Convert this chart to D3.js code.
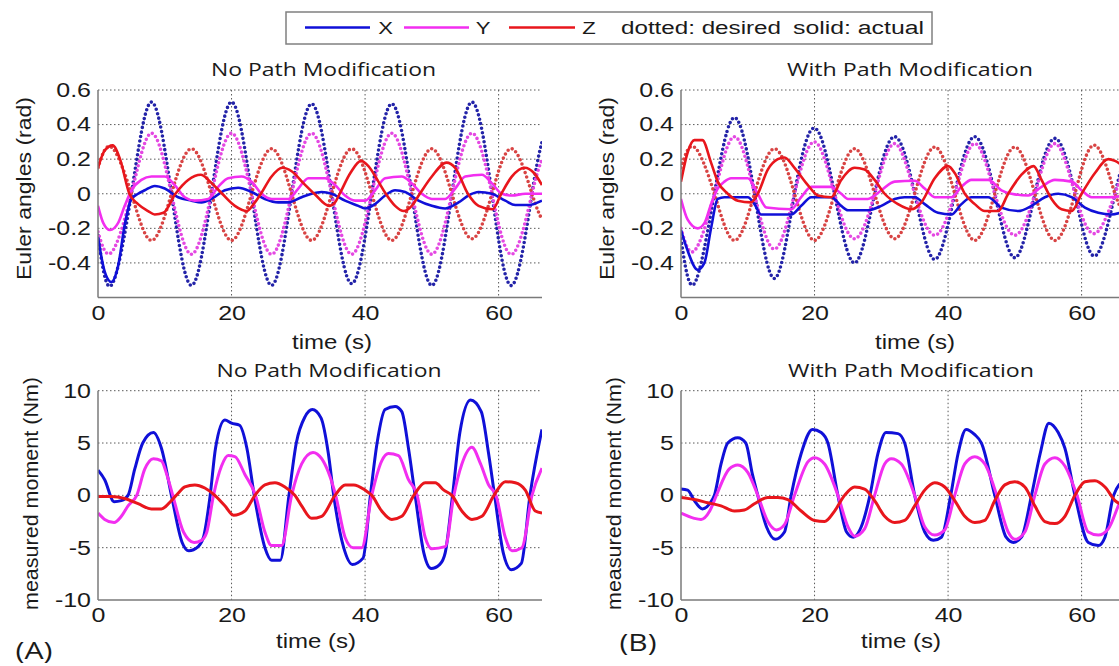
<!DOCTYPE html>
<html><head><meta charset="utf-8">
<script src="https://cdn.jsdelivr.net/npm/d3@7"></script>
<style>body{margin:0;background:#fff}svg{display:block}</style>
</head><body><script>
// ---------------- DATA ----------------
const xDomain = [0, 66.5];
const xTicks = [0, 20, 40, 60];
const angleDomain = [-0.6, 0.6];
const angleTicks = [0.6, 0.4, 0.2, 0, -0.2, -0.4];
const momentDomain = [-10, 10];
const momentTicks = [10, 5, 0, -5, -10];

const panelTitles = ["No Path Modification", "With Path Modification", "No Path Modification", "With Path Modification"];
const legendLabels = ["X", "Y", "Z"];

// desired (dotted) trajectories, sampled times
const tDesired = [0, 2, 5, 8, 11, 14, 17, 20, 23, 26, 29, 32, 35, 38, 41, 44, 47, 50, 53, 56, 59, 62, 65, 66.5];
const desX_A = [-0.24, -0.53, 0, 0.53, 0, -0.53, 0, 0.53, 0, -0.53, 0, 0.52, 0, -0.52, 0, 0.52, 0, -0.53, 0, 0.53, 0, -0.53, 0, 0.30];
const desY_A = [-0.22, -0.34, 0, 0.35, 0, -0.35, 0, 0.35, 0, -0.35, 0, 0.35, 0, -0.35, 0, 0.35, 0, -0.35, 0, 0.35, 0, -0.35, 0, 0.20];
const desZ_A = [0.15, 0.27, 0, -0.27, 0, 0.26, 0, -0.27, 0, 0.26, 0, -0.27, 0, 0.26, 0, -0.27, 0, 0.26, 0, -0.26, 0, 0.26, 0, -0.15];
const desX_B = [-0.26, -0.52, 0, 0.44, 0, -0.49, 0, 0.38, 0, -0.40, 0, 0.33, 0, -0.38, 0, 0.33, 0, -0.37, 0, 0.32, 0, -0.36, 0, 0.20];
const desY_B = [-0.20, -0.33, 0, 0.33, 0, -0.32, 0, 0.30, 0, -0.26, 0, 0.29, 0, -0.24, 0, 0.29, 0, -0.24, 0, 0.29, 0, -0.23, 0, 0.15];
const desZ_B = [0.15, 0.27, 0, -0.27, 0, 0.26, 0, -0.27, 0, 0.26, 0, -0.26, 0, 0.27, 0, -0.27, 0, 0.27, 0, -0.27, 0, 0.28, 0, -0.10];

// actual Euler angles [t, rad]
const angX_A = [[0,-0.25],[1,-0.45],[2,-0.51],[3,-0.42],[4,-0.18],[5,-0.03],[6,0.0],[7,0.02],[8.5,0.045],[10,0.03],[12,-0.02],[14,-0.04],[15.5,-0.05],[17,-0.03],[19,0.02],[21,0.035],[23,0.01],[25,-0.03],[27,-0.05],[28.5,-0.05],[30.5,-0.02],[32,0.0],[33.5,0.01],[35,0.0],[37,-0.04],[39,-0.07],[40,-0.085],[41.5,-0.06],[43,-0.01],[44.5,0.02],[46,0.01],[48,-0.04],[50,-0.07],[52,-0.085],[54,-0.05],[55.5,-0.01],[57,0.01],[59,0.0],[61,-0.04],[62.5,-0.065],[64.5,-0.065],[66.5,-0.04]];
const angY_A = [[0,-0.07],[0.8,-0.17],[1.8,-0.21],[3,-0.17],[4,-0.07],[5,0.02],[6.5,0.08],[8,0.1],[10,0.1],[11.5,0.05],[13,-0.02],[14.5,-0.04],[16.5,-0.03],[18,0.04],[19.5,0.09],[21.5,0.1],[23,0.07],[24.5,0.0],[26,-0.03],[28.5,-0.03],[30,0.03],[31.5,0.09],[34,0.09],[35.5,0.05],[37,-0.01],[38.5,-0.04],[40,-0.04],[41.5,0.02],[43,0.09],[45.5,0.1],[47,0.06],[48.5,0.0],[50,-0.03],[52,-0.03],[53.5,0.03],[55,0.1],[57.5,0.11],[59,0.06],[60.5,0.0],[62,-0.01],[64,0.0],[66.5,0.0]];
const angZ_A = [[0,0.15],[1,0.25],[2.2,0.28],[3.3,0.2],[4.7,0.0],[6,-0.06],[7.5,-0.1],[8.5,-0.12],[9.8,-0.11],[11.6,0.0],[13.5,0.08],[15.4,0.11],[16.8,0.07],[18.6,0.0],[20.5,-0.07],[22.3,-0.1],[23.3,-0.06],[24.4,0.0],[26,0.1],[27.6,0.15],[29,0.13],[30.8,0.06],[32.4,0.0],[34.6,-0.07],[35.5,-0.05],[36.2,0.0],[37.8,0.12],[39.4,0.19],[40.5,0.16],[42,0.07],[43.1,0.0],[44.5,-0.07],[45.8,-0.1],[47,-0.07],[48.2,0.0],[50,0.1],[52.2,0.18],[53.5,0.15],[55.4,0.0],[57,-0.07],[59.1,-0.09],[60.4,0.0],[62,0.1],[63.9,0.15],[65.3,0.12],[66.5,0.05]];
const angX_B = [[0,-0.21],[1,-0.33],[2.5,-0.44],[3.5,-0.4],[4.5,-0.2],[5.5,-0.03],[6.5,-0.02],[10,-0.02],[11,-0.06],[12,-0.12],[16.5,-0.12],[18,-0.07],[19.5,-0.02],[22.5,-0.02],[24,-0.07],[25,-0.095],[28,-0.095],[30,-0.07],[32,-0.03],[33.5,-0.02],[35,-0.02],[36.5,-0.06],[38.5,-0.11],[40.5,-0.12],[42,-0.06],[43.5,-0.02],[46,-0.02],[48,-0.08],[50.5,-0.1],[52.5,-0.07],[54.5,-0.02],[56.5,0.0],[58.5,-0.02],[60.5,-0.08],[62.5,-0.11],[64.5,-0.12],[66.5,-0.1]];
const angY_B = [[0,-0.03],[1,-0.15],[2.5,-0.2],[3.5,-0.17],[4.5,-0.06],[5.5,0.03],[6.5,0.07],[7.5,0.09],[10,0.09],[11.5,0.0],[12.8,-0.08],[16.5,-0.09],[18,-0.02],[19.5,0.04],[22.5,0.04],[24,0.0],[25,-0.03],[28,-0.03],[30,0.02],[32,0.07],[35,0.075],[36.5,0.03],[38,-0.02],[40.5,-0.02],[42,0.04],[43.5,0.08],[46,0.08],[48,0.02],[49.5,0.0],[52,-0.01],[54,0.04],[56,0.08],[58.5,0.07],[60,0.02],[61.5,-0.02],[64,-0.02],[66.5,-0.01]];
const angZ_B = [[0,0.07],[1,0.24],[2,0.31],[3.2,0.31],[4.5,0.18],[5.5,0.07],[7,0.0],[8.5,-0.04],[10.5,-0.05],[11.5,0.0],[13,0.14],[14.5,0.2],[15.5,0.21],[17,0.15],[19,0.05],[20.5,-0.01],[22.5,-0.02],[24,0.08],[26,0.15],[27.5,0.14],[29,0.08],[30.5,0.0],[32.5,-0.06],[34.5,-0.09],[36,-0.05],[38,0.09],[40,0.16],[41,0.12],[42.5,0.0],[44,-0.06],[45.5,-0.1],[47.5,-0.1],[49,0.0],[51,0.11],[52.8,0.16],[54,0.08],[55.5,-0.03],[57,-0.09],[58.5,-0.1],[60,0.0],[62,0.12],[64,0.2],[65,0.19],[66.5,0.15]];

// measured moments [t, Nm]
const momX_A = [[0,2.4],[1,1.5],[2.4,-0.6],[3.5,-0.5],[4.5,0.0],[5.5,2.5],[6.7,5.0],[8.3,6.0],[9.5,4.5],[11,0.0],[12.6,-4.5],[13.6,-5.3],[15,-4.9],[15.8,-4.0],[16.8,0.0],[17.6,4.5],[19,7.2],[20,6.9],[21.2,6.7],[22.3,4.5],[23.4,0.0],[25,-5.0],[26,-6.2],[27.3,-6.2],[28.6,0.0],[29.7,5.0],[31,7.5],[32.1,8.2],[33.4,7.4],[34.5,4],[35.3,0.0],[36.8,-5.0],[38.1,-6.6],[39.7,-6.0],[40.8,0.0],[41.8,5.0],[43,8.2],[44.5,8.5],[45.5,8.0],[46.5,4.5],[47.5,0.0],[48.8,-5.5],[49.9,-7.0],[51.2,-6.6],[52,-5.5],[53.1,0.0],[54.2,6.0],[55.8,9.1],[57.4,8.0],[58.5,4],[59.4,0.0],[60.7,-5.5],[61.9,-7.1],[63.4,-6.5],[64.7,0.0],[66.5,6.3]];
const momY_A = [[0,-1.7],[1,-2.3],[2.4,-2.6],[3.5,-2.0],[4.5,-1.0],[5.8,0.0],[7,2.5],[8.3,3.5],[9.5,3.3],[10.3,2.0],[11.2,0.0],[12.8,-3.5],[14.4,-4.5],[15.5,-4.3],[16.3,-3.5],[17.3,0.0],[18.5,2.8],[19.5,3.8],[20.5,3.7],[22,2.0],[23.6,0.0],[25,-3.5],[26,-4.8],[27.5,-4.8],[29,0.0],[30.5,3.0],[32.2,4.1],[33.5,3.5],[35.6,0.0],[37,-4.0],[38.2,-5.0],[39.5,-5.0],[41,0.0],[42.5,3.3],[43.5,4.0],[45,3.8],[46.5,1.5],[47.8,0.0],[49,-4.0],[50,-5.1],[52,-4.9],[53.3,0.0],[54.5,3.0],[56,4.6],[57.3,3.0],[58.5,1.0],[59.6,0.0],[61,-4.0],[62,-5.3],[63.5,-5.0],[65,0.0],[66.5,2.6]];
const momZ_A = [[0,-0.1],[2,-0.1],[4,-0.3],[6,-0.8],[8,-1.3],[9.5,-1.3],[11,-0.5],[12,0.2],[13,0.8],[14.5,1.0],[16,0.7],[17.5,0.0],[19,-1.0],[20.3,-1.9],[22,-1.5],[23.5,0.0],[25,1.0],[26.5,1.2],[28,0.8],[29.5,0.0],[30.5,-1.0],[32,-2.2],[33.5,-2.0],[35.5,0.0],[37,1.0],[38.3,1.0],[40,0.5],[41,0.0],[42.5,-1.5],[44,-2.3],[45.5,-2.0],[47.3,0.0],[49,1.2],[50.5,1.2],[51.8,0.5],[53,0.0],[54.5,-1.5],[56,-2.3],[57.5,-2.0],[59.3,0.0],[61,1.3],[62.5,1.2],[64,0.5],[65.5,-1.5],[66.5,-1.7]];
const momX_B = [[0,0.6],[1,0.5],[2,-0.5],[3.2,-1.3],[4.3,-0.8],[5,0.0],[6,3.0],[7,5.0],[8.5,5.5],[9.7,5.0],[10.7,2.0],[11.5,0.0],[12.8,-3.0],[14.1,-4.2],[15.5,-3.5],[16.5,0.0],[18,4.0],[19.7,6.3],[21,6.0],[22,5.0],[23.5,0.0],[24.8,-3.5],[25.8,-4.0],[27,-3.0],[28.3,0.0],[29.5,4.0],[30.7,6.0],[32.5,5.9],[33.5,5.0],[35,0.0],[36.5,-3.5],[37.8,-4.3],[39,-4.0],[40.4,0.0],[41.5,4.0],[42.7,6.3],[44,5.8],[45,5.0],[47,0.0],[48.7,-4.0],[49.8,-4.5],[51,-4.0],[52.5,0.0],[53.8,4.0],[55.1,6.9],[56.5,6.0],[57.5,4.5],[59,0.0],[61,-4.5],[62.5,-4.8],[63.5,-4.0],[64.8,0.0],[66.5,1.5]];
const momY_B = [[0,-1.7],[2,-2.2],[3,-2.3],[4.3,-1.5],[5.3,0.0],[7.2,2.5],[8.5,2.9],[10,2.2],[11.5,0.0],[13,-2.5],[14.3,-3.3],[15.5,-2.8],[17,0.0],[19,3.2],[20,3.6],[21.5,3.0],[23.5,0.0],[25,-3.0],[26,-3.9],[27.5,-3.2],[29,0.0],[30.5,3.0],[31.5,3.5],[33,3.0],[35,0.0],[36.5,-3.0],[38,-3.8],[39.5,-3.3],[41,0.0],[42.5,3.0],[44,3.7],[45.5,3.0],[47.3,0.0],[49,-3.5],[50,-4.2],[51.5,-3.5],[53,0.0],[54.5,3.0],[56,3.6],[57.5,2.8],[59.3,0.0],[61,-3.5],[62.5,-3.8],[64,-3.2],[65.5,-1.0],[66.5,0.5]];
const momZ_B = [[0,-0.2],[2,-0.4],[4,-0.7],[6,-1.0],[8,-1.5],[9.5,-1.4],[11,-0.8],[13,-0.2],[14.5,-0.2],[16,-0.4],[18,-1.5],[20,-2.4],[21.5,-2.5],[23,-1.5],[24.5,0.0],[26,0.8],[27.5,0.6],[29,-0.5],[30.5,-2.0],[32,-2.6],[33.5,-2.4],[35,-1.0],[36.5,0.5],[38,1.2],[39.5,0.8],[41,-0.5],[42.5,-2.0],[44,-2.6],[45.5,-2.4],[47,-0.5],[48.5,1.0],[50,1.3],[51.5,0.8],[53,-1.0],[54.5,-2.5],[56,-2.7],[57.5,-2.0],[59,0.0],[60.5,1.3],[62,1.4],[63.5,0.8],[65,-0.5],[66.5,-1.0]];

// ---------------- STYLE / LAYOUT ----------------
const W = 1119, H = 666;
const colSolid = ["#1010d8", "#f22ef0", "#e8161c"];
const colDot = ["#2323a8", "#e448e2", "#d84444"];
const SANS = "'Liberation Sans', Arial, sans-serif";
const HUM = "'Open Sans', 'Noto Sans', sans-serif";
const SX = 1.25;

const svg = d3.select("body").append("svg").attr("width", W).attr("height", H)
  .style("background", "#fff");

function txt(x, y, s, o) {
  const g = svg.append("g").attr("transform",
    `translate(${x},${y}) scale(${o.sx || 1},1)` + (o.rot ? ` rotate(${o.rot})` : ""));
  const t = g.append("text").text(s)
    .attr("font-family", o.family || SANS)
    .attr("font-size", o.size)
    .attr("fill", o.fill || "#1a1a1a")
    .attr("text-anchor", o.anchor || "middle");
  if (o.dy) t.attr("dy", o.dy);
  if (o.len) t.attr("textLength", o.len).attr("lengthAdjust", "spacingAndGlyphs");
  return t;
}

const zipD = (vals) => tDesired.map((t, i) => [t, vals[i]]);

const panels = [
  { l: 98, t: 90, b: 297.5, yd: angleDomain, yt: angleTicks, title: panelTitles[0], tx: 323.5, ty: 76, tlen: 225,
    ylab: "Euler angles (rad)", ylx: 24, yly: 188.5, ylen: 183, xlx: 332, xly: 349,
    des: [desX_A, desY_A, desZ_A], act: [angX_A, angY_A, angZ_A] },
  { l: 681, t: 90, b: 297.5, yd: angleDomain, yt: angleTicks, title: panelTitles[1], tx: 910, ty: 76, tlen: 246,
    ylab: "Euler angles (rad)", ylx: 607, yly: 188.5, ylen: 183, xlx: 915, xly: 349,
    des: [desX_B, desY_B, desZ_B], act: [angX_B, angY_B, angZ_B] },
  { l: 98, t: 390.7, b: 600, yd: momentDomain, yt: momentTicks, title: panelTitles[2], tx: 329, ty: 377, tlen: 225,
    ylab: "measured moment (Nm)", ylx: 31, yly: 493.5, ylen: 233, xlx: 316, xly: 648,
    des: null, act: [momX_A, momY_A, momZ_A] },
  { l: 681, t: 390.7, b: 600, yd: momentDomain, yt: momentTicks, title: panelTitles[3], tx: 911, ty: 377, tlen: 246,
    ylab: "measured moment (Nm)", ylx: 614, yly: 493.5, ylen: 233, xlx: 901, xly: 648,
    des: null, act: [momX_B, momY_B, momZ_B] }
];
const PW = 444;

panels.forEach((p, pi) => {
  const x = d3.scaleLinear().domain(xDomain).range([p.l, p.l + PW]);
  const y = d3.scaleLinear().domain(p.yd).range([p.b, p.t]);
  const g = svg.append("g");

  // grid
  const gridStyle = s => s.attr("stroke", "#5a5a5a").attr("stroke-width", 1)
    .attr("stroke-dasharray", "1.5,2.5").attr("fill", "none");
  g.selectAll(".hg").data(p.yt.filter(v => v !== p.yd[0])).join("line")
    .attr("x1", p.l).attr("x2", p.l + PW).attr("y1", d => y(d)).attr("y2", d => y(d)).call(gridStyle);
  g.selectAll(".vg").data(xTicks.filter(v => v !== 0)).join("line")
    .attr("x1", d => x(d)).attr("x2", d => x(d)).attr("y1", p.t).attr("y2", p.b).call(gridStyle);

  // clip
  const cid = "clip" + pi;
  svg.append("clipPath").attr("id", cid).append("rect")
    .attr("x", p.l).attr("y", p.t - 20).attr("width", PW).attr("height", p.b - p.t + 40);
  const lines = g.append("g").attr("clip-path", `url(#${cid})`);

  if (p.des) {
    const ld = d3.line().x(d => x(d[0])).y(d => y(d[1])).curve(d3.curveNatural);
    p.des.forEach((vals, k) => {
      lines.append("path").datum(zipD(vals)).attr("d", ld)
        .attr("fill", "none").attr("stroke", colDot[k]).attr("stroke-width", 3.6)
        .attr("stroke-linecap", "round").attr("stroke-dasharray", "0,4.6");
    });
  }
  const la = d3.line().x(d => x(d[0])).y(d => y(d[1])).curve(d3.curveMonotoneX);
  p.act.forEach((pts, k) => {
    lines.append("path").datum(pts).attr("d", la)
      .attr("fill", "none").attr("stroke", colSolid[k]).attr("stroke-width", pi < 2 ? 2.6 : 3)
      .attr("stroke-linejoin", "round");
  });

  // axes
  const ax = g.append("g").attr("transform", `translate(0,${p.b})`)
    .call(d3.axisBottom(x).tickValues(xTicks).tickSize(0).tickPadding(8).tickFormat(d => String(d)));
  const ay = g.append("g").attr("transform", `translate(${p.l},0)`)
    .call(d3.axisLeft(y).tickValues(p.yt).tickSize(0).tickPadding(7).tickFormat(d => String(d)));
  [ax, ay].forEach(a => {
    a.select(".domain").attr("stroke", "#7a7a7a").attr("stroke-width", 1.5);
    a.selectAll("text").attr("font-family", SANS).attr("font-size", 20).attr("fill", "#1a1a1a");
  });
  ay.selectAll(".domain").attr("d", `M0,${p.t}V${p.b}`);
  ax.selectAll(".domain").attr("d", `M${p.l},0H${p.l + PW}`);
  ay.selectAll(".tick text").attr("x", -7 / SX).attr("transform", `scale(${SX},1)`);
  ax.selectAll(".tick text").attr("transform", `scale(${SX},1)`);

  // titles and labels
  txt(p.tx, p.ty, p.title, { size: 19, family: HUM, len: p.tlen });
  txt(p.xlx, p.xly, "time (s)", { size: 20, sx: 1.2 });
  txt(p.ylx, p.yly, p.ylab, { size: 21, rot: -90, dy: "0.35em", len: p.ylen });
});

// panel letters
txt(34, 659, "(A)", { size: 24, family: HUM, len: 37 });
txt(638, 651, "(B)", { size: 24, family: HUM, len: 37 });

// legend
svg.append("rect").attr("x", 286).attr("y", 12).attr("width", 646).attr("height", 32)
  .attr("fill", "#fff").attr("stroke", "#808080").attr("stroke-width", 1.5);
const legLines = [[305, 370], [404, 469], [509, 575]];
const legTextX = [385.5, 483, 589];
legLines.forEach((r, k) => {
  svg.append("line").attr("x1", r[0]).attr("x2", r[1]).attr("y1", 27.5).attr("y2", 27.5)
    .attr("stroke", colSolid[k]).attr("stroke-width", 2.5);
  txt(legTextX[k], 34, legendLabels[k], { size: 17, sx: 1.3 });
});
txt(701, 34, "dotted: desired", { size: 18, len: 160 });
txt(858.5, 34, "solid: actual", { size: 18, len: 131 });
</script></body></html>
